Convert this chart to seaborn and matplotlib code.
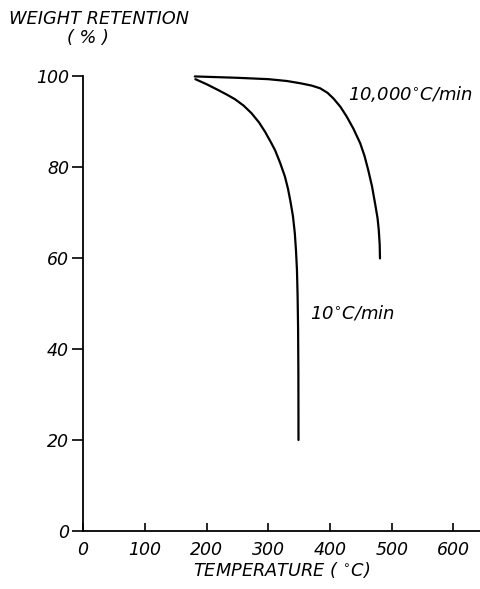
import numpy as np
import pandas as pd
import matplotlib
matplotlib.use("Agg")
import matplotlib.pyplot as plt
import seaborn as sns

# Data (temperature in C, weight retention in %)
temp_slow = [182, 200, 219, 233, 246, 260, 273, 285, 295, 304, 311, 319, 327, 332, 336, 340, 343, 345, 346.5, 347.5, 348.3, 348.8, 349]
wr_slow = [99.3, 98.2, 96.9, 95.9, 94.9, 93.5, 91.8, 89.8, 87.7, 85.5, 83.7, 81.0, 77.9, 75.2, 72.4, 69.2, 65.5, 61.5, 57.4, 52.0, 45.0, 35.0, 20.0]

temp_fast = [181, 250, 300, 330, 352, 370, 384, 396, 406, 417, 427, 438, 449, 456, 462, 468, 473, 477, 479, 480.5, 481]
wr_fast = [99.9, 99.6, 99.3, 98.9, 98.4, 97.9, 97.3, 96.3, 95.0, 93.2, 91.1, 88.4, 85.2, 82.4, 79.3, 75.8, 72.0, 68.8, 66.2, 63.0, 59.9]

rate_labels = ["10$^{\\circ}$C/min", "10,000$^{\\circ}$C/min"]
xticks = [0, 100, 200, 300, 400, 500, 600]
yticks = [0, 20, 40, 60, 80, 100]

df = pd.concat([
    pd.DataFrame({"temp": temp_slow, "wr": wr_slow, "rate": "slow"}),
    pd.DataFrame({"temp": temp_fast, "wr": wr_fast, "rate": "fast"}),
])

sns.set_style("ticks")
plt.rcParams["font.family"] = ["DejaVu Sans"]
plt.rcParams["font.style"] = "italic"
plt.rcParams["mathtext.default"] = "it"
plt.rcParams["text.color"] = "black"

fig = plt.figure(figsize=(4.8, 5.89), dpi=100)
ax = fig.add_axes([0.173, 0.0985, 0.827, 0.7725])

sns.lineplot(data=df, x="temp", y="wr", units="rate", estimator=None, sort=False,
             color="black", linewidth=1.6, ax=ax, legend=False)
for line in ax.lines:
    line.set_clip_on(False)
    line.set_solid_joinstyle("round")

ax.set_xlim(0, 643)
ax.set_ylim(0, 100)
ax.set_xticks(xticks)
ax.set_yticks(yticks)
ax.set_xticklabels([str(t) for t in xticks], fontsize=12.5, style="italic")
ax.set_yticklabels([str(t) for t in yticks], fontsize=12.5, style="italic")
ax.tick_params(axis="x", direction="in", length=6, width=1.2, pad=7, colors="black")
ax.tick_params(axis="y", direction="out", length=8, width=1.2, pad=2, colors="black")

for side in ["top", "right"]:
    ax.spines[side].set_visible(False)
for side in ["left", "bottom"]:
    ax.spines[side].set_color("black")
    ax.spines[side].set_linewidth(1.3)

ax.set_xlabel("TEMPERATURE ( $^{\\circ}$C)", fontsize=12.8, style="italic", labelpad=1, color="black")
ax.set_ylabel("")
fig.text(0.018, 0.968, "WEIGHT RETENTION", fontsize=12.8, style="italic", va="center", ha="left")
fig.text(0.14, 0.936, "( % )", fontsize=12.8, style="italic", va="center", ha="left")

ax.text(429, 96, rate_labels[1], fontsize=13, style="italic", va="center", ha="left")
ax.text(368, 48, rate_labels[0], fontsize=13, style="italic", va="center", ha="left")

fig.savefig("out.png", dpi=100, facecolor="white")
